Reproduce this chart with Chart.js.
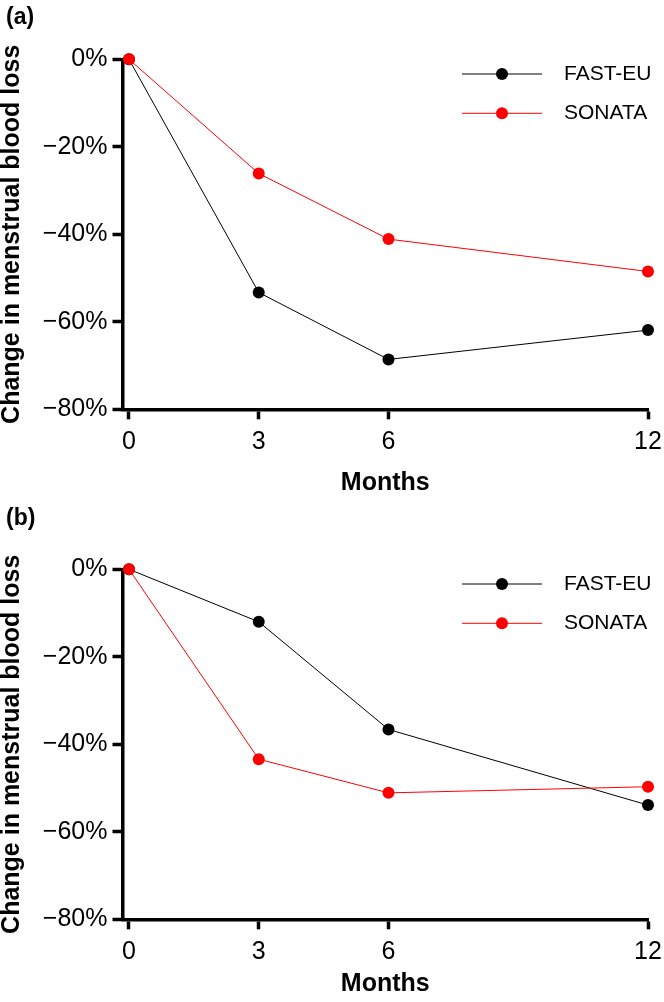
<!DOCTYPE html>
<html>
<head>
<meta charset="utf-8">
<script src="https://cdn.jsdelivr.net/npm/chart.js@4.4.1/dist/chart.umd.min.js"></script>
<style>
    html, body { margin: 0; padding: 0; background: #fff; }
    body { width: 664px; height: 1002px; position: relative; overflow: hidden; font-family: Arial, "Liberation Sans", sans-serif; }
    .panel { position: absolute; left: 0; width: 664px; }
    #panel-a { top: 0; height: 501px; }
    #panel-b { top: 510px; height: 492px; }
    .tag { position: absolute; left: 6px; font-weight: bold; font-size: 23px; line-height: 23px; }
</style>
</head>
<body>
<div class="panel" id="panel-a"><canvas id="chartA" width="664" height="501"></canvas></div>
<div class="panel" id="panel-b"><canvas id="chartB" width="664" height="492"></canvas></div>
<div class="tag" style="top:5px">(a)</div>
<div class="tag" style="top:506px">(b)</div>

<script>
// ---- Data ----
const months = [0, 3, 6, 12];
const monthTicks = [0, 3, 6, 12];
const percentTicks = [-80, -60, -40, -20, 0];
const seriesNames = ['FAST-EU', 'SONATA'];

// panel (a)
const fastEuA = [0, -53.3, -68.6, -61.9];
const sonataA = [0, -26.1, -41.1, -48.5];
// panel (b)
const fastEuB = [0, -12.0, -36.6, -53.9];
const sonataB = [0, -43.4, -51.1, -49.7];

const FONT = 'Arial, "Liberation Sans", sans-serif';
const AREA_TOP = 59.3;
const AREA_BOTTOM = 409.3;

Chart.defaults.font.family = FONT;
Chart.defaults.color = '#000';

// ---- Legend: line with a dot, drawn in the plot ----
const seriesLegend = {
    id: 'seriesLegend',
    afterDraw(chart, args, opts) {
        const ctx = chart.ctx;
        ctx.save();
        chart.data.datasets.forEach((ds, i) => {
            const y = opts.top + i * opts.gap;
            ctx.strokeStyle = ds.borderColor;
            ctx.lineWidth = ds.borderWidth;
            ctx.beginPath();
            ctx.moveTo(opts.left, y);
            ctx.lineTo(opts.left + opts.lineLength, y);
            ctx.stroke();
            ctx.fillStyle = ds.pointBackgroundColor;
            ctx.beginPath();
            ctx.arc(opts.left + opts.lineLength / 2, y, ds.pointRadius, 0, Math.PI * 2);
            ctx.fill();
            ctx.fillStyle = '#000';
            ctx.font = opts.font;
            ctx.textBaseline = 'middle';
            ctx.textAlign = 'left';
            ctx.fillText(ds.label, opts.left + opts.lineLength + opts.textGap, y);
        });
        ctx.restore();
    }
};

const toPoints = values => months.map((m, i) => ({ x: m, y: values[i] }));

function makeChart(canvasId, fastEu, sonata, canvasHeight) {
    const ctx = document.getElementById(canvasId).getContext('2d');
    return new Chart(ctx, {
        type: 'line',
        data: {
            datasets: [
                {
                    label: seriesNames[0],
                    data: toPoints(fastEu),
                    borderColor: '#000000',
                    backgroundColor: '#000000',
                    pointBackgroundColor: '#000000',
                    borderWidth: 1,
                    pointRadius: 6,
                    pointBorderWidth: 0,
                    tension: 0,
                    clip: false,
                    order: 1
                },
                {
                    label: seriesNames[1],
                    data: toPoints(sonata),
                    borderColor: '#ff0000',
                    backgroundColor: '#ff0000',
                    pointBackgroundColor: '#ff0000',
                    borderWidth: 1,
                    pointRadius: 6,
                    pointBorderWidth: 0,
                    tension: 0,
                    clip: false,
                    order: 0
                }
            ]
        },
        options: {
            responsive: false,
            animation: false,
            layout: { padding: { top: AREA_TOP, right: 16, left: 0, bottom: 0 } },
            scales: {
                x: {
                    type: 'linear',
                    min: -0.15,
                    max: 12,
                    afterBuildTicks: s => { s.ticks = monthTicks.map(v => ({ value: v })); },
                    afterFit: s => {
                        s.height = canvasHeight - AREA_BOTTOM;
                        s.paddingLeft = 0;
                        s.paddingRight = 0;
                    },
                    border: { display: true, color: '#000', width: 3.5 },
                    grid: { drawOnChartArea: false, drawTicks: true, tickLength: 10, tickWidth: 3.5, tickColor: '#000' },
                    ticks: { padding: 8, font: { size: 25, lineHeight: 1.2 }, color: '#000', maxRotation: 0 },
                    title: { display: true, text: 'Months', font: { size: 25, weight: 'bold', lineHeight: 1.2 }, color: '#000', padding: { top: 0, bottom: 3 } }
                },
                y: {
                    min: -80,
                    max: 0,
                    afterBuildTicks: s => { s.ticks = percentTicks.map(v => ({ value: v })); },
                    afterFit: s => {
                        s.width = 122.5;
                        s.paddingTop = 0;
                        s.paddingBottom = 0;
                    },
                    border: { display: true, color: '#000', width: 3.5 },
                    grid: { drawOnChartArea: false, drawTicks: true, tickLength: 10, tickWidth: 3.5, tickColor: '#000' },
                    ticks: {
                        padding: 5,
                        font: { size: 25 },
                        color: '#000',
                        callback: v => (v < 0 ? '\u2212' + Math.abs(v) : v) + '%'
                    },
                    title: { display: true, text: 'Change in menstrual blood loss', font: { size: 25, weight: 'bold', lineHeight: 1 }, color: '#000', padding: 0 }
                }
            },
            plugins: {
                legend: { display: false },
                tooltip: { enabled: false },
                seriesLegend: { left: 462, lineLength: 80, top: 74, gap: 39.3, textGap: 22, font: '21px ' + FONT }
            }
        },
        plugins: [seriesLegend]
    });
}

makeChart('chartA', fastEuA, sonataA, 501);
makeChart('chartB', fastEuB, sonataB, 492);
</script>
</body>
</html>
